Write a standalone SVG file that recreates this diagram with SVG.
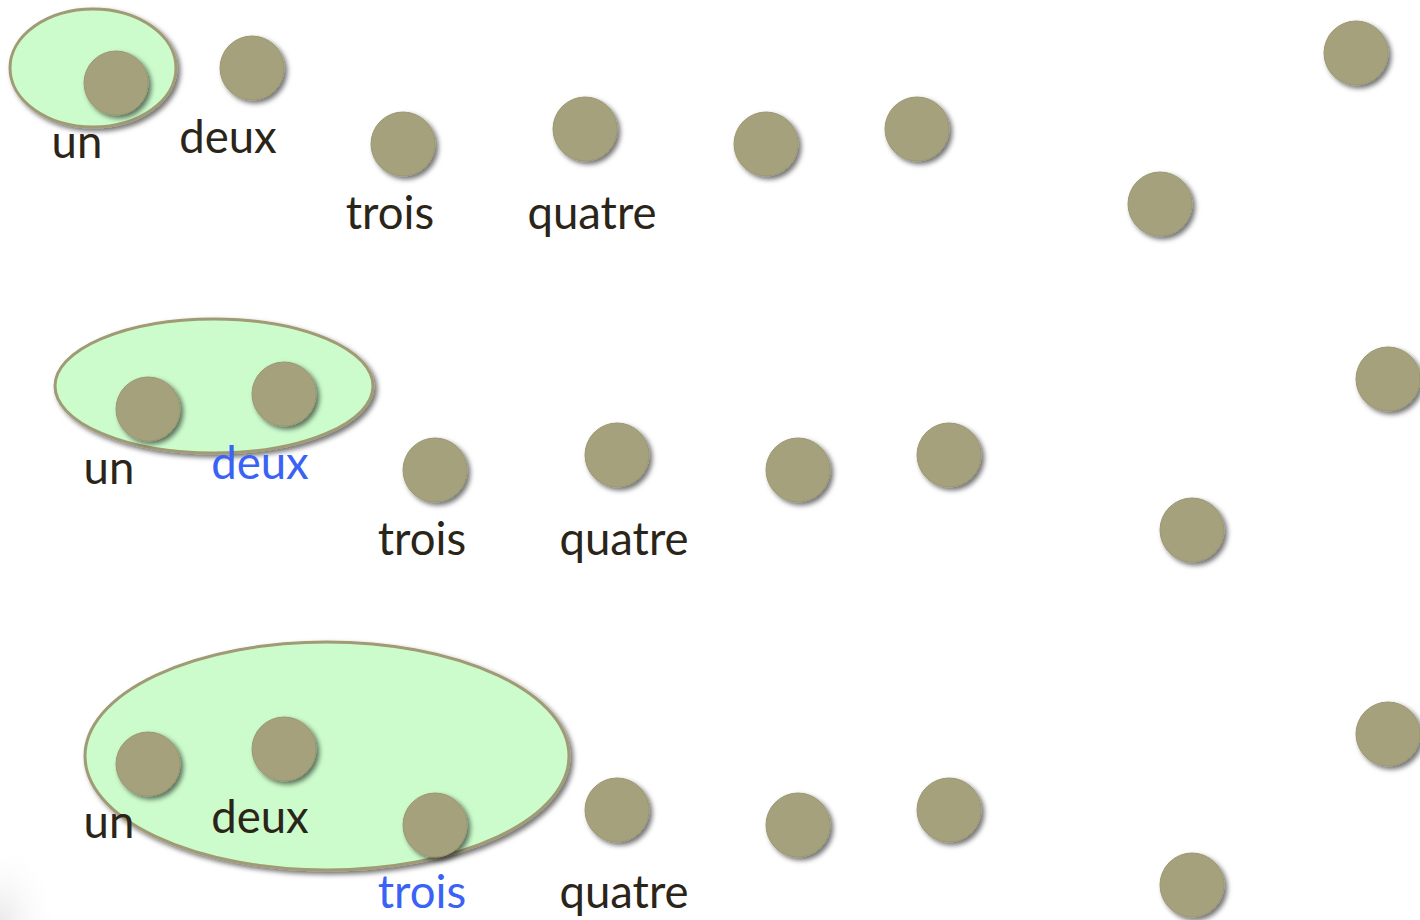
<svg xmlns="http://www.w3.org/2000/svg" width="1420" height="920" viewBox="0 0 1420 920">
  <defs>
    <filter id="shadow" x="-30%" y="-30%" width="160%" height="160%">
      <feDropShadow dx="3" dy="3" stdDeviation="2.5" flood-color="#000" flood-opacity="0.55"/>
    </filter>
    <radialGradient id="corner" cx="0" cy="1" r="1">
      <stop offset="0" stop-color="#e4e4e4" stop-opacity="0.8"/>
      <stop offset="1" stop-color="#ffffff" stop-opacity="0"/>
    </radialGradient>
    <g id="dot"><circle r="32" class="dot"/></g>
  </defs>
  <style>
    .dot { fill: #a5a17b; stroke: #9b976f; stroke-width: 1; filter: url(#shadow); }
    .set { fill: #ccfccc; stroke: #a09a74; stroke-width: 3; filter: url(#shadow); }
    .lbl { font-family: Lato, "Open Sans", sans-serif; font-size: 45.5px; fill: #2b2519; text-anchor: middle; }
    .hl { fill: #3a63f6; }
  </style>
  <rect width="1420" height="920" fill="#ffffff"/>
  <rect x="0" y="840" width="60" height="80" fill="url(#corner)"/>

  <!-- row 1: set holding "un" -->
  <g id="row1">
    <ellipse id="set1" class="set" cx="93" cy="68" rx="83" ry="59"/>
    <g id="r1-un"><use href="#dot" x="116" y="83"/><text class="lbl" x="77" y="158">un</text></g>
    <g id="r1-deux"><use href="#dot" x="252" y="68"/><text class="lbl" x="228" y="153">deux</text></g>
    <g id="r1-trois"><use href="#dot" x="403" y="144"/><text class="lbl" x="390" y="229">trois</text></g>
    <g id="r1-quatre"><use href="#dot" x="585" y="129"/><text class="lbl" x="592" y="229">quatre</text></g>
    <g id="r1-n5"><use href="#dot" x="766" y="144"/></g>
    <g id="r1-n6"><use href="#dot" x="917" y="129"/></g>
    <g id="r1-n7"><use href="#dot" x="1160" y="204"/></g>
    <g id="r1-n8"><use href="#dot" x="1356" y="53"/></g>
  </g>

  <!-- row 2: set holding "un" and "deux" -->
  <g id="row2">
    <ellipse id="set2" class="set" cx="214" cy="386" rx="159" ry="67"/>
    <g id="r2-un"><use href="#dot" x="148" y="409"/><text class="lbl" x="109" y="484">un</text></g>
    <g id="r2-deux"><use href="#dot" x="284" y="394"/><text class="lbl hl" x="260" y="479">deux</text></g>
    <g id="r2-trois"><use href="#dot" x="435" y="470"/><text class="lbl" x="422" y="555">trois</text></g>
    <g id="r2-quatre"><use href="#dot" x="617" y="455"/><text class="lbl" x="624" y="555">quatre</text></g>
    <g id="r2-n5"><use href="#dot" x="798" y="470"/></g>
    <g id="r2-n6"><use href="#dot" x="949" y="455"/></g>
    <g id="r2-n7"><use href="#dot" x="1192" y="530"/></g>
    <g id="r2-n8"><use href="#dot" x="1388" y="379"/></g>
  </g>

  <!-- row 3: set holding "un", "deux" and "trois" -->
  <g id="row3">
    <ellipse id="set3" class="set" cx="327" cy="756" rx="242" ry="114"/>
    <g id="r3-un"><use href="#dot" x="148" y="764"/><text class="lbl" x="109" y="838">un</text></g>
    <g id="r3-deux"><use href="#dot" x="284" y="749"/><text class="lbl" x="260" y="833">deux</text></g>
    <g id="r3-trois"><use href="#dot" x="435" y="825"/><text class="lbl hl" x="422" y="908">trois</text></g>
    <g id="r3-quatre"><use href="#dot" x="617" y="810"/><text class="lbl" x="624" y="908">quatre</text></g>
    <g id="r3-n5"><use href="#dot" x="798" y="825"/></g>
    <g id="r3-n6"><use href="#dot" x="949" y="810"/></g>
    <g id="r3-n7"><use href="#dot" x="1192" y="885"/></g>
    <g id="r3-n8"><use href="#dot" x="1388" y="734"/></g>
  </g>

  <g id="connectors"/>
</svg>
